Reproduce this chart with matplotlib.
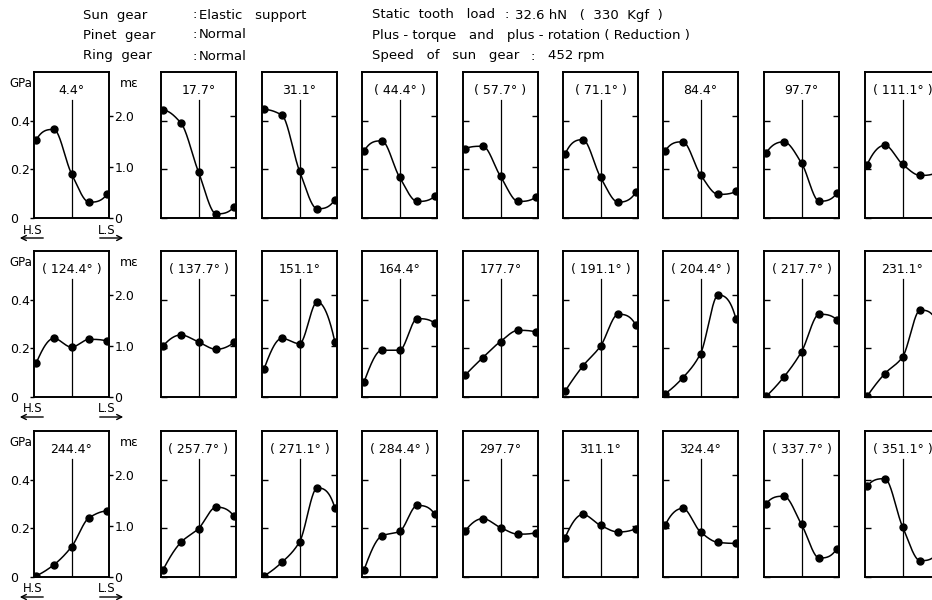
import numpy as np
import matplotlib
matplotlib.use("Agg")
import matplotlib.pyplot as plt
from matplotlib.patches import FancyArrowPatch

plt.rcParams['font.family'] = ['DejaVu Sans']

# tooth root stress (GPa) at 5 gauge positions, H.S -> L.S
labels_row1 = ['4.4°', '17.7°', '31.1°', '(44.4°)', '(57.7°)', '(71.1°)', '84.4°', '97.7°', '(111.1°)']
labels_row2 = ['(124.4°)', '(137.7°)', '151.1°', '164.4°', '177.7°', '(191.1°)', '(204.4°)', '(217.7°)', '231.1°']
labels_row3 = ['244.4°', '(257.7°)', '(271.1°)', '(284.4°)', '297.7°', '311.1°', '324.4°', '(337.7°)', '(351.1°)']

stress_row1 = [
    [0.32, 0.364, 0.182, 0.065, 0.097],
    [0.443, 0.391, 0.189, 0.017, 0.045],
    [0.446, 0.423, 0.193, 0.038, 0.076],
    [0.275, 0.317, 0.168, 0.068, 0.09],
    [0.285, 0.295, 0.171, 0.068, 0.086],
    [0.262, 0.322, 0.168, 0.065, 0.106],
    [0.275, 0.313, 0.178, 0.097, 0.109],
    [0.267, 0.313, 0.226, 0.069, 0.102],
    [0.219, 0.299, 0.221, 0.175, 0.19],
]
stress_row2 = [
    [0.138, 0.241, 0.205, 0.237, 0.23],
    [0.21, 0.255, 0.226, 0.196, 0.224],
    [0.116, 0.241, 0.219, 0.391, 0.226],
    [0.063, 0.192, 0.192, 0.322, 0.303],
    [0.09, 0.162, 0.228, 0.274, 0.267],
    [0.024, 0.127, 0.209, 0.34, 0.295],
    [0.014, 0.079, 0.178, 0.419, 0.322],
    [0.003, 0.082, 0.186, 0.34, 0.317],
    [0.003, 0.096, 0.164, 0.357, 0.30],
]
stress_row3 = [
    [0.005, 0.05, 0.124, 0.244, 0.271],
    [0.03, 0.142, 0.199, 0.287, 0.25],
    [0.005, 0.06, 0.144, 0.366, 0.284],
    [0.03, 0.169, 0.187, 0.294, 0.257],
    [0.189, 0.24, 0.203, 0.176, 0.182],
    [0.162, 0.257, 0.212, 0.185, 0.199],
    [0.212, 0.282, 0.185, 0.142, 0.138],
    [0.301, 0.332, 0.216, 0.078, 0.117],
    [0.373, 0.404, 0.207, 0.067, 0.10],
]

positions = [0, 1, 2, 3, 4]
gpa_ticks = [0, 0.2, 0.4]
gpa_ticklabels = ['0', '0.2', '0.4']
me_ticks = [0, 1.0, 2.0]
me_ticklabels = ['0', '1.0', '2.0']


def pchip(x, y, xs):
    # monotone cubic interpolation (no scipy here)
    x = np.asarray(x, float)
    y = np.asarray(y, float)
    h = np.diff(x)
    d = np.diff(y) / h
    n = len(x)
    m = np.zeros(n)
    for k in range(1, n - 1):
        if d[k - 1] * d[k] > 0:
            w1 = 2 * h[k] + h[k - 1]
            w2 = h[k] + 2 * h[k - 1]
            m[k] = (w1 + w2) / (w1 / d[k - 1] + w2 / d[k])

    def end(h0, h1, d0, d1):
        s = ((2 * h0 + h1) * d0 - h0 * d1) / (h0 + h1)
        if np.sign(s) != np.sign(d0):
            s = 0.0
        elif np.sign(d0) != np.sign(d1) and abs(s) > abs(3 * d0):
            s = 3 * d0
        return s
    m[0] = end(h[0], h[1], d[0], d[1])
    m[-1] = end(h[-1], h[-2], d[-1], d[-2])
    idx = np.clip(np.searchsorted(x, xs) - 1, 0, n - 2)
    t = (xs - x[idx]) / h[idx]
    h00 = 2 * t**3 - 3 * t**2 + 1
    h10 = t**3 - 2 * t**2 + t
    h01 = -2 * t**3 + 3 * t**2
    h11 = t**3 - t**2
    return h00 * y[idx] + h10 * h[idx] * m[idx] + h01 * y[idx + 1] + h11 * h[idx] * m[idx + 1]


W, H = 932, 600
fig = plt.figure(figsize=(W / 100, H / 100), dpi=100)

col_left = [34, 161, 262, 362, 463, 563, 663, 764, 865]
row_bottom = [218, 397, 577]
pw, ph = 75, 146


def rect(left, bottom):
    return [left / W, 1 - bottom / H, pw / W, ph / H]


rows = [(labels_row1, stress_row1), (labels_row2, stress_row2), (labels_row3, stress_row3)]
xs = np.linspace(0, 4, 200)

for r, (labs, data) in enumerate(rows):
    for c in range(9):
        ax = fig.add_axes(rect(col_left[c], row_bottom[r]))
        ax.set_xlim(-0.12, 4.12)
        ax.set_ylim(0, 0.6)
        ax.plot(xs, pchip(positions, data[c], xs), color='black', lw=1.1)
        ax.plot(positions, data[c], 'o', color='black', ms=5)
        ax.axvline(2, ymax=0.81, color='black', lw=0.9)
        shown = labs[c].replace('(', '( ').replace(')', ' )')
        ax.text(0.5, 0.875, shown, transform=ax.transAxes, ha='center', va='center',
                fontsize=9)
        for s in ax.spines.values():
            s.set_linewidth(1.2)
        ax.set_xticks([])
        ax.set_yticks(gpa_ticks)
        ax2 = ax.twinx()
        ax2.set_ylim(0, 2.85)
        ax2.set_yticks(me_ticks)
        if c == 0:
            ax.set_yticklabels(gpa_ticklabels, fontsize=9)
            ax.tick_params(axis='y', direction='out', length=3, width=1, pad=14)
            for t in ax.get_yticklabels():
                t.set_ha('left')
            ax2.set_yticklabels(me_ticklabels, fontsize=9)
            ax2.tick_params(axis='y', direction='out', length=3, width=1, pad=1)
            ax.text(-0.02, 0.92, 'GPa', transform=ax.transAxes, ha='right', va='center',
                    fontsize=8.5)
            ax.text(1.15, 0.92, 'mε', transform=ax.transAxes, ha='left', va='center',
                    fontsize=9)
            # H.S / L.S arrows under the first panel
            yb = 1 - (row_bottom[r] + 12) / H
            ya = 1 - (row_bottom[r] + 20) / H
            fig.text(23 / W, yb, 'H.S', ha='left', va='center', fontsize=8.5)
            fig.text(98 / W, yb, 'L.S', ha='left', va='center', fontsize=8.5)
            fig.add_artist(FancyArrowPatch(
                (46 / W, ya), (17 / W, ya), transform=fig.transFigure,
                arrowstyle='->', mutation_scale=9, lw=1, color='black'))
            fig.add_artist(FancyArrowPatch(
                (97 / W, ya), (126 / W, ya), transform=fig.transFigure,
                arrowstyle='->', mutation_scale=9, lw=1, color='black'))
        else:
            ax.set_yticklabels([])
            ax.tick_params(axis='y', direction='in', length=4, width=1)
            ax2.set_yticklabels([])
            ax2.tick_params(axis='y', direction='in', length=4, width=1)
        for s in ax2.spines.values():
            s.set_linewidth(1.2)

# header
hdr = dict(fontsize=9.5, va='center', ha='left')
fig.text(83 / W, 1 - 15 / H, 'Sun  gear', **hdr)
fig.text(83 / W, 1 - 35 / H, 'Pinet  gear', **hdr)
fig.text(83 / W, 1 - 56 / H, 'Ring  gear', **hdr)
fig.text(193 / W, 1 - 15 / H, ':', **hdr)
fig.text(193 / W, 1 - 35 / H, ':', **hdr)
fig.text(193 / W, 1 - 56 / H, ':', **hdr)
fig.text(199 / W, 1 - 15 / H, 'Elastic   support', **hdr)
fig.text(199 / W, 1 - 35 / H, 'Normal', **hdr)
fig.text(199 / W, 1 - 56 / H, 'Normal', **hdr)

fig.text(372 / W, 1 - 15 / H, 'Static  tooth   load', **hdr)
fig.text(504 / W, 1 - 15 / H, ':', **hdr)
fig.text(515 / W, 1 - 15 / H, '32.6 hN   (  330  Kgf  )', **hdr)
fig.text(372 / W, 1 - 35 / H, 'Plus - torque   and   plus - rotation ( Reduction )', **hdr)
fig.text(372 / W, 1 - 56 / H, 'Speed   of   sun   gear', **hdr)
fig.text(530 / W, 1 - 56 / H, ':', **hdr)
fig.text(548 / W, 1 - 56 / H, '452 rpm', **hdr)

fig.savefig('out.png', dpi=100)
